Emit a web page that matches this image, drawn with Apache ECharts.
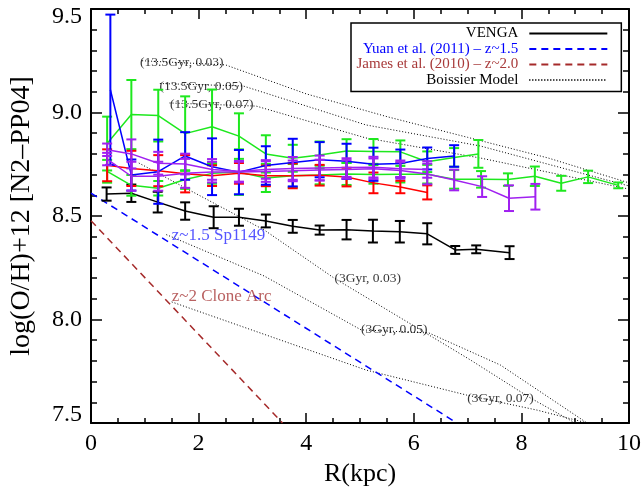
<!DOCTYPE html>
<html><head><meta charset="utf-8">
<script src="https://cdn.jsdelivr.net/npm/echarts@6/dist/echarts.min.js"></script>
<style>html,body{margin:0;padding:0;background:#fff}#c{width:644px;height:494px}</style>
</head><body><div id="c"></div>
<script>
// ---------------- data ----------------
const xTickLabels = ['0','2','4','6','8','10'];
const yTickLabels = ['7.5','8.0','8.5','9.0','9.5'];

const vengaX = [0.29,0.75,1.24,1.75,2.28,2.75,3.25,3.75,4.25,4.75,5.24,5.74,6.25,6.77,7.16,7.78];
const vengaY = [8.606,8.61,8.567,8.524,8.494,8.494,8.476,8.45,8.432,8.434,8.427,8.424,8.414,8.336,8.339,8.323];
const vengaE = [0.032,0.042,0.05,0.042,0.053,0.041,0.031,0.031,0.022,0.047,0.055,0.052,0.051,0.019,0.019,0.031];

const green1X = [0.3,0.75,1.25,1.75,2.25,2.75,3.25,3.75,4.25,4.75,5.25,5.75,6.25,6.75,7.2];
const green1Y = [8.85,8.99,8.985,8.898,8.931,8.886,8.80,8.779,8.795,8.814,8.812,8.81,8.762,8.783,8.80];
const green1E = [0.13,0.167,0.125,0.18,0.18,0.11,0.09,0.065,0.065,0.057,0.06,0.055,0.05,0.045,0.067];

const green2X = [0.3,0.75,1.25,1.75,2.25,2.75,3.25,3.75,4.25,4.75,5.25,5.75,6.25,6.75,7.25,7.75,8.25,8.74,9.24,9.8];
const green2Y = [8.716,8.648,8.634,8.676,8.706,8.712,8.684,8.695,8.698,8.703,8.701,8.702,8.702,8.677,8.677,8.676,8.692,8.658,8.689,8.648];
const green2E = [0.055,0.05,0.035,0.045,0.05,0.11,0.068,0.056,0.045,0.053,0.045,0.04,0.045,0.045,0.04,0.03,0.047,0.036,0.03,0.014];

const redX = [0.3,0.75,1.25,1.75,2.25,2.75,3.25,3.75,4.25,4.75,5.25,5.75,6.25];
const redY = [8.745,8.73,8.719,8.704,8.695,8.706,8.694,8.694,8.697,8.688,8.66,8.64,8.614];
const redE = [0.077,0.085,0.075,0.09,0.05,0.05,0.05,0.06,0.05,0.045,0.05,0.03,0.034];

const blueX = [0.36,0.75,1.25,1.75,2.25,2.75,3.25,3.75,4.25,4.75,5.25,5.75,6.25,6.75];
const blueY = [9.11,8.698,8.714,8.79,8.738,8.712,8.744,8.758,8.772,8.764,8.75,8.754,8.778,8.79];
const blueE = [0.363,0.075,0.155,0.115,0.137,0.107,0.093,0.115,0.085,0.085,0.08,0.067,0.053,0.052];

const purple1X = [0.3,0.75,1.25,1.75,2.25,2.75,3.25,3.75,4.25,4.75,5.25,5.75,6.25];
const purple1Y = [8.82,8.80,8.755,8.751,8.725,8.716,8.725,8.73,8.732,8.734,8.736,8.728,8.725];
const purple1E = [0.03,0.07,0.055,0.05,0.05,0.05,0.045,0.055,0.06,0.045,0.05,0.04,0.04];

const purple2X = [0.3,0.75,1.25,1.75,2.25,2.75,3.25,3.75,4.25,4.75,5.25,5.75,6.25,6.75,7.27,7.77,8.26];
const purple2Y = [8.775,8.692,8.692,8.706,8.712,8.712,8.715,8.718,8.722,8.725,8.728,8.72,8.703,8.674,8.642,8.586,8.593];
const purple2E = [0.03,0.07,0.07,0.07,0.05,0.05,0.05,0.05,0.05,0.045,0.05,0.04,0.05,0.05,0.05,0.062,0.062];

const yuanLine = [[0, 8.61], [6.8, 7.5]];
const jamesLine = [[0, 8.477], [3.56, 7.5]];

const boissierA = [[0.95,9.25],[2.5,9.23],[4.0,9.09],[5.5,8.98],[7.0,8.88],[8.5,8.78],[10.0,8.66]];
const boissierB = [[1.28,9.14],[2.83,9.128],[5.11,8.94],[7.24,8.838],[10.0,8.645]];
const boissierC = [[1.46,9.046],[3.07,9.031],[5.11,8.877],[7.24,8.78],[10.0,8.63]];
const boissierD = [[0.889,8.756],[1.722,8.64],[3.222,8.432],[4.519,8.2],[5.759,8.007],[7.056,7.804],[8.167,7.621],[9.0,7.5]];
const boissierE = [[1.4,8.41],[3.22,8.21],[5.02,7.95],[6.28,7.935],[7.61,7.78],[9.22,7.5]];
const boissierF = [[1.5,8.085],[5.111,7.756],[6.981,7.635],[8.296,7.562],[9.222,7.5]];

const annotations = [
  {text:'(13.5Gyr, 0.03)', x:0.913, y:9.241, color:'#000', size:13.5},
  {text:'(13.5Gyr, 0.05)', x:1.272, y:9.128, color:'#000', size:13.5},
  {text:'(13.5Gyr, 0.07)', x:1.469, y:9.040, color:'#000', size:13.5},
  {text:'(3Gyr, 0.03)', x:4.524, y:8.199, color:'#000', size:13.5},
  {text:'(3Gyr, 0.05)', x:5.019, y:7.954, color:'#000', size:13.5},
  {text:'(3Gyr, 0.07)', x:6.994, y:7.619, color:'#000', size:13.5},
  {text:'z~1.5 Sp1149', x:1.5, y:8.408, color:'#2a2aff', size:17},
  {text:'z~2 Clone Arc', x:1.5, y:8.110, color:'#a83a3a', size:17}
];

const legendNames = ['VENGA','Yuan et al. (2011) – z~1.5','James et al. (2010) – z~2.0','Boissier Model'];

// ---------------- helpers ----------------
const FONT = 'Liberation Serif';
const zip = (xs, ys) => xs.map((x, i) => [x, ys[i]]);

function lineSeries(name, data, color, width, z, dash) {
  return {type:'line', name, data, z, symbol:'none', showSymbol:false, silent:true, animation:false,
    lineStyle:{color, width, type: dash || 'solid'}, itemStyle:{color}};
}
function errSeries(name, xs, ys, es, color, width, capW, z) {
  return {
    type:'custom', name, z, silent:true, animation:false,
    data: xs.map((x, i) => [x, ys[i] - es[i], ys[i] + es[i]]),
    encode:{x:0, y:[1,2]},
    renderItem(params, api) {
      const x = api.value(0);
      const lo = api.coord([x, api.value(1)]);
      const hi = api.coord([x, api.value(2)]);
      const c = capW / 2;
      const st = {stroke:color, lineWidth:width};
      return {type:'group', children:[
        {type:'line', shape:{x1:lo[0], y1:lo[1], x2:hi[0], y2:hi[1]}, style:st},
        {type:'line', shape:{x1:lo[0]-c, y1:lo[1], x2:lo[0]+c, y2:lo[1]}, style:st},
        {type:'line', shape:{x1:hi[0]-c, y1:hi[1], x2:hi[0]+c, y2:hi[1]}, style:st}
      ]};
    }
  };
}
function dottedSeries(data) {
  return lineSeries(legendNames[3], data, '#000', 1, 2, [1, 2]);
}

const GREEN = '#1ee81e', BLUE = '#0000ff', RED = '#ff0000', PURPLE = '#a020f0', BROWN = '#a52a2a';

const series = [
  lineSeries(legendNames[1], yuanLine, BLUE, 1.5, 3, [7, 5]),
  lineSeries(legendNames[2], jamesLine, BROWN, 1.5, 3, [7, 5]),
  dottedSeries(boissierA), dottedSeries(boissierB), dottedSeries(boissierC),
  dottedSeries(boissierD), dottedSeries(boissierE), dottedSeries(boissierF),
  lineSeries(legendNames[0], zip(vengaX, vengaY), '#000', 1.5, 5),
  errSeries('venga_err', vengaX, vengaY, vengaE, '#000', 2, 10, 5),
  lineSeries('g1', zip(green1X, green1Y), GREEN, 1.5, 6),
  errSeries('g1_err', green1X, green1Y, green1E, GREEN, 2, 10, 6),
  lineSeries('g2', zip(green2X, green2Y), GREEN, 1.5, 6),
  errSeries('g2_err', green2X, green2Y, green2E, GREEN, 2, 10, 6),
  lineSeries('r', zip(redX, redY), RED, 1.5, 7),
  errSeries('r_err', redX, redY, redE, RED, 2, 10, 7),
  lineSeries('b', zip(blueX, blueY), BLUE, 1.5, 8),
  errSeries('b_err', blueX, blueY, blueE, BLUE, 2, 10, 8),
  lineSeries('p1', zip(purple1X, purple1Y), PURPLE, 1.5, 9),
  errSeries('p1_err', purple1X, purple1Y, purple1E, PURPLE, 2, 10, 9),
  lineSeries('p2', zip(purple2X, purple2Y), PURPLE, 1.5, 9),
  errSeries('p2_err', purple2X, purple2Y, purple2E, PURPLE, 2, 10, 9),
  {type:'scatter', name:'annot', symbolSize:0, silent:true, animation:false, z:4,
    data: annotations.map(a => ({value:[a.x, a.y], name:a.text,
      label:{color:a.color, fontSize:a.size}})),
    label:{show:true, position:'right', distance:0, formatter:'{b}', fontFamily:FONT}}
];

const TICK_FS = 24;
function xAxisCfg(pos, showLabel) {
  return {type:'value', position:pos, min:0, max:10, interval:2,
    name: showLabel ? 'R(kpc)' : '', nameLocation:'middle', nameGap:33,
    nameTextStyle:{fontFamily:FONT, fontSize:26, color:'#000'},
    axisLine:{show:true, onZero:false, lineStyle:{color:'#000', width:2}},
    axisTick:{show:true, inside:true, length:10, lineStyle:{color:'#000', width:1.5}},
    minorTick:{show:true, splitNumber:4, length:5, lineStyle:{color:'#000', width:1.5}},
    splitLine:{show:false},
    axisLabel:{show:showLabel, margin:9, fontFamily:FONT, fontSize:TICK_FS, color:'#000',
      formatter:(v) => xTickLabels[Math.round(v/2)]}
  };
}
function yAxisCfg(pos, showLabel) {
  return {type:'value', position:pos, min:7.5, max:9.5, interval:0.5,
    name: showLabel ? 'log(O/H)+12 [N2–PP04]' : '', nameLocation:'middle', nameGap:55, nameRotate:90,
    nameTextStyle:{fontFamily:FONT, fontSize:28, color:'#000'},
    axisLine:{show:true, onZero:false, lineStyle:{color:'#000', width:2}},
    axisTick:{show:true, inside:true, length:11, lineStyle:{color:'#000', width:1.5}},
    minorTick:{show:true, splitNumber:5, length:6, lineStyle:{color:'#000', width:1.5}},
    splitLine:{show:false},
    axisLabel:{show:showLabel, margin:9, fontFamily:FONT, fontSize:TICK_FS, color:'#000',
      formatter:(v) => {
        const i = Math.round((v - 7.5) / 0.5);
        const t = yTickLabels[i];
        if (i === yTickLabels.length - 1) return '{top|' + t + '}';
        if (i === 0) return '{bot|' + t + '}';
        return t;
      },
      rich:{
        top:{fontFamily:FONT, fontSize:TICK_FS, color:'#000', padding:[16,0,0,0]},
        bot:{fontFamily:FONT, fontSize:TICK_FS, color:'#000', padding:[0,0,16,0]}
      }
    }
  };
}

const chart = echarts.init(document.getElementById('c'), null, {renderer:'canvas'});
chart.setOption({
  animation:false,
  backgroundColor:'#fff',
  grid:{left:89, right:15, top:9, bottom:71},
  xAxis:[xAxisCfg('bottom', true), xAxisCfg('top', false)],
  yAxis:[yAxisCfg('left', true), yAxisCfg('right', false)],
  legend:{
    left:351, top:23, orient:'vertical', align:'right', selectedMode:false,
    backgroundColor:'#fff', borderColor:'#000', borderWidth:1.5, borderRadius:0,
    padding:[3,13,4,5.5], itemWidth:78, itemHeight:14, itemGap:0.5,
    itemStyle:{opacity:0},
    formatter:(name) => '{a|' + name + '}',
    textStyle:{fontFamily:FONT, fontSize:15, lineHeight:15, color:'#000',
      rich:{a:{fontFamily:FONT, fontSize:15, lineHeight:15, padding:[0,6,0,0]}}},
    data:[
      {name:legendNames[0], textStyle:{color:'#000'}},
      {name:legendNames[1], textStyle:{color:'#0000ff'}},
      {name:legendNames[2], textStyle:{color:'#a83a3a'}},
      {name:legendNames[3], textStyle:{color:'#000'}}
    ]
  },
  series
});
</script></body></html>
